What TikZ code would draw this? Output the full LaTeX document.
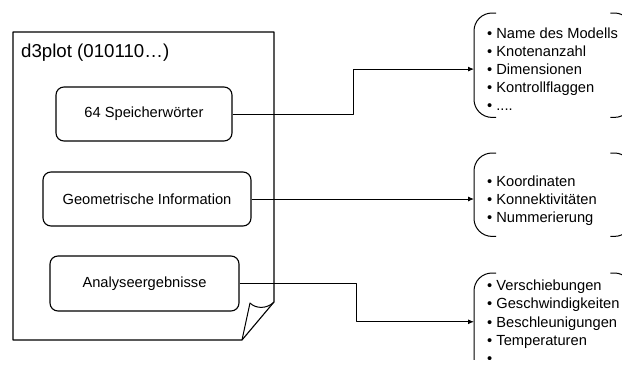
\documentclass[tikz,border=0pt]{standalone}
\usepackage{fontspec}
\setmainfont{Liberation Sans}
\usetikzlibrary{arrows.meta}
\begin{document}
\begin{tikzpicture}[x=1pt,y=-1pt,line join=round,
  box/.style={draw,line width=1.1pt,rounded corners=8pt,inner sep=0pt,font=\fontsize{14.67}{17}\selectfont},
  list/.style={align=left,inner sep=0pt,anchor=base west,font=\fontsize{14.67}{18.2}\selectfont},
  conn/.style={line width=0.9pt},
  arr/.style={conn,-{Latex[length=6pt,width=5pt]}},
  brk/.style={line width=1pt,rounded corners=18pt},
  frame/.style={inner sep=0pt,anchor=north west}]
\useasboundingbox (0,0) rectangle (622,365);
\clip (0,0) rectangle (622,359);
% document sheet with folded corner
\draw[line width=1.1pt] (274,302) -- (274,32) -- (13,32) -- (13,340) -- (242,340) -- cycle;
\draw[line width=1pt] (242,340) -- (250,303) .. controls (256,309) and (267,309) .. (274,302);
\node[inner sep=0pt,anchor=base west,font=\fontsize{18.67}{20}\selectfont] (title) at (21,57) {d3plot (010110…)};
% inner boxes
\node[box,minimum width=176pt,minimum height=54pt] (b1) at (144,114) {64 Speicherwörter};
\node[box,minimum width=208pt,minimum height=54pt] (b2) at (147,199) {Geometrische Information};
\node[box,minimum width=189pt,minimum height=55pt] (b3) at (144.5,283.5) {Analyseergebnisse};
% bracket frames
\node[frame,minimum width=158pt,minimum height=104pt] (k1) at (474,13) {};
\node[frame,minimum width=158pt,minimum height=83pt] (k2) at (474,153) {};
\node[frame,minimum width=158pt,minimum height=110pt] (k3) at (474,273) {};
\foreach \k in {k1,k2,k3}{
  \draw[brk] ([xshift=22pt]\k.north west) -- (\k.north west) -- (\k.south west) -- ([xshift=22pt]\k.south west);
  \draw[brk] ([xshift=-22pt]\k.north east) -- (\k.north east) -- (\k.south east) -- ([xshift=-22pt]\k.south east);
}
% lists (anchored at the baseline of their last line)
\node[list] (l1) at (487,110.8) {• Name des Modells\\• Knotenanzahl\\• Dimensionen\\• Kontrollflaggen\\• ....};
\node[list] (l2) at (487,222.4) {• Koordinaten\\• Konnektivitäten\\• Nummerierung};
\node[list] (l3) at (487,363.5) {• Verschiebungen\\• Geschwindigkeiten\\• Beschleunigungen\\• Temperaturen\\• ....};
% connectors
\draw[arr] (b1.east) -- ++(121,0) |- (k1.west |- l1.west);
\draw[arr] (b2.east) -- (b2.east -| k2.west);
\draw[arr] (b3.east) -- ++(117,0) |- (k3.west |- l3.west);
\end{tikzpicture}
\end{document}
